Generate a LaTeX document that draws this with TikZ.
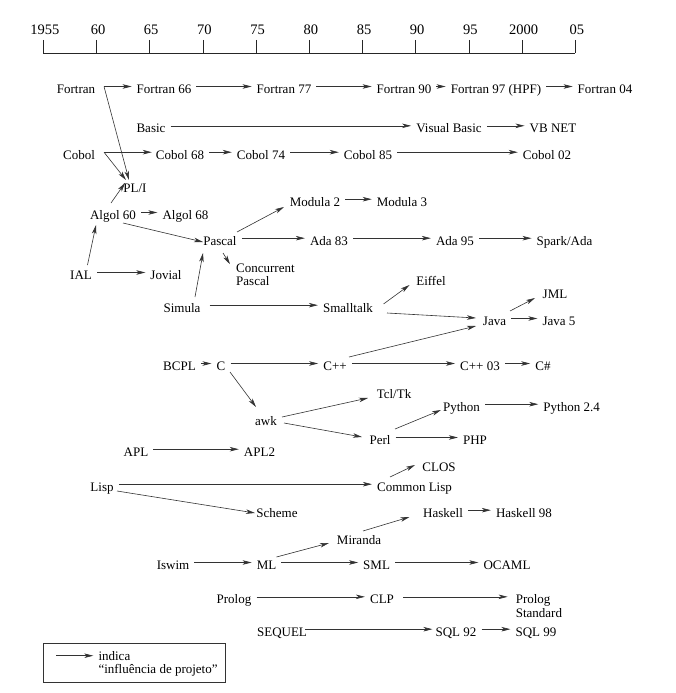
\documentclass[tikz,border=0pt]{standalone}
\usepackage{fontspec}
\setmainfont{Liberation Serif}
\usetikzlibrary{arrows.meta}
\begin{document}
\begin{tikzpicture}[x=1pt,y=-1pt,
  langnode/.style={font=\fontsize{13}{13.3}\selectfont, inner xsep=3pt, inner ysep=0pt, text height=14pt, text depth=0pt},
  langmulti/.style={font=\fontsize{13}{13.3}\selectfont, inner sep=0pt, anchor=base west},
  yearlbl/.style={font=\fontsize{14.5}{15}\selectfont, inner sep=0pt, anchor=base},
  infl/.style={draw=black!80, line width=0.6pt, -{Stealth[length=9pt,width=4.5pt,inset=2.5pt]}},
  hinfl/.style={infl, shorten >=2pt, shorten <=2pt},
  axisline/.style={draw=black!85, line width=0.7pt},
]
\useasboundingbox (0,0) rectangle (676,693);

% time axis
\draw[axisline] (43.3,53) -- (575.3,53);
\foreach \i in {0,...,10} \draw[axisline] (43.3+53.2*\i,40) -- (43.3+53.2*\i,53);
\foreach \i/\t in {0/1955,1/60,2/65,3/70,4/75,5/80,6/85,7/90,8/95,9/2000,10/05}
  \node[yearlbl] (yr\i) at (44.8+53.2*\i,35) {\t};

% languages
\node[langnode] (fortran) at (76,86.5) {Fortran};
\node[langnode] (f66) at (164,86.5) {Fortran 66};
\node[langnode] (f77) at (284,86.5) {Fortran 77};
\node[langnode] (f90) at (404,86.5) {Fortran 90};
\node[langnode] (f97) at (496,86.5) {Fortran 97 (HPF)};
\node[langnode] (f04) at (605,86.5) {Fortran 04};

\node[langnode] (basic) at (151,125.8) {Basic};
\node[langnode] (vb) at (449,125.8) {Visual Basic};
\node[langnode] (vbnet) at (553,125.8) {VB NET};

\node[langnode] (cobol) at (79,152.2) {Cobol};
\node[langnode] (c68) at (180,152.2) {Cobol 68};
\node[langnode] (c74) at (261,152.2) {Cobol 74};
\node[langnode] (c85) at (368,152.2) {Cobol 85};
\node[langnode] (c02) at (547,152.2) {Cobol 02};

\node[langnode] (pli) at (135,185.5) {PL/I};
\node[langnode] (algol60) at (113,212.5) {Algol 60};
\node[langnode] (algol68) at (185.5,212.5) {Algol 68};
\node[langnode] (modula2) at (315,199.2) {Modula 2};
\node[langnode] (modula3) at (402,199.2) {Modula 3};
\node[langnode] (pascal) at (220,238.2) {Pascal};
\node[langnode] (ada83) at (329,238.2) {Ada 83};
\node[langnode] (ada95) at (455,238.2) {Ada 95};
\node[langnode] (spark) at (564.5,238.2) {Spark/Ada};
\node[langmulti] (concp) at (236,272.2) {\begin{tabular}[t]{@{}l@{}}Concurrent\\Pascal\end{tabular}};
\node[langnode] (ial) at (81,272.5) {IAL};
\node[langnode] (jovial) at (166,272.5) {Jovial};
\node[langnode] (eiffel) at (431,278.2) {Eiffel};
\node[langnode] (simula) at (182,305.2) {Simula};
\node[langnode] (smalltalk) at (348,305.2) {Smalltalk};
\node[langnode] (jml) at (555,291.5) {JML};
\node[langnode] (java) at (494.5,318.5) {Java};
\node[langnode] (java5) at (559,318.5) {Java 5};

\node[langnode] (bcpl) at (179.5,363.5) {BCPL};
\node[langnode] (c) at (221,363.5) {C};
\node[langnode] (cpp) at (335,363.5) {C++};
\node[langnode] (cpp03) at (480,363.5) {C++ 03};
\node[langnode] (csharp) at (543,363.5) {C\#};

\node[langnode] (tcl) at (394,391.5) {Tcl/Tk};
\node[langnode] (python) at (461.5,404.2) {Python};
\node[langnode] (py24) at (571.6,404.2) {Python 2.4};
\node[langnode] (awk) at (266,418.2) {awk};
\node[langnode] (perl) at (380,437.5) {Perl};
\node[langnode] (php) at (475,437.5) {PHP};
\node[langnode] (apl) at (136,449.2) {APL};
\node[langnode] (apl2) at (259.5,449.2) {APL2};

\node[langnode] (clos) at (439,464.2) {CLOS};
\node[langnode] (lisp) at (102,484.2) {Lisp};
\node[langnode] (clisp) at (414.5,484.2) {Common Lisp};
\node[langnode] (scheme) at (277,510.2) {Scheme};
\node[langnode] (haskell) at (443,510.2) {Haskell};
\node[langnode] (h98) at (524,510.2) {Haskell 98};
\node[langnode] (miranda) at (359,537.5) {Miranda};
\node[langnode] (iswim) at (173,562.5) {Iswim};
\node[langnode] (ml) at (266.5,562.5) {ML};
\node[langnode] (sml) at (376.6,562.5) {SML};
\node[langnode] (ocaml) at (507,562.5) {OCAML};

\node[langnode] (prolog) at (234,596.8) {Prolog};
\node[langnode] (clp) at (382,596.8) {CLP};
\node[langmulti] (prologstd) at (515.6,603.8) {\begin{tabular}[t]{@{}l@{}}Prolog\\Standard\end{tabular}};
\node[langnode] (sequel) at (282,629.2) {SEQUEL};
\node[langnode] (sql92) at (456,629.2) {SQL 92};
\node[langnode] (sql99) at (536,629.2) {SQL 99};

% horizontal influences
\draw[infl, shorten >=2pt] ([shift={(28,0)}]fortran.center) -- (f66);
\draw[hinfl] (f66) -- (f77);
\draw[hinfl] (f77) -- (f90);
\draw[hinfl] (f90) -- (f97);
\draw[hinfl] (f97) -- (f04);
\draw[hinfl] (basic) -- (vb);
\draw[hinfl] (vb) -- (vbnet);
\draw[infl, shorten >=1pt] ([shift={(25,0)}]cobol.center) -- (c68);
\draw[hinfl] (c68) -- (c74);
\draw[hinfl] (c74) -- (c85);
\draw[hinfl] (c85) -- (c02);
\draw[hinfl] (algol60) -- (algol68);
\draw[hinfl] (modula2) -- (modula3);
\draw[hinfl] (pascal) -- (ada83);
\draw[hinfl] (ada83) -- (ada95);
\draw[hinfl] (ada95) -- (spark);
\draw[hinfl] (ial) -- (jovial);
\draw[hinfl, shorten <=6pt] (simula) -- (smalltalk);
\draw[hinfl] (java) -- (java5);
\draw[hinfl] (bcpl) -- (c);
\draw[hinfl] (c) -- (cpp);
\draw[hinfl] (cpp) -- (cpp03);
\draw[hinfl] (cpp03) -- (csharp);
\draw[hinfl] (python) -- (py24);
\draw[hinfl] (perl) -- (php);
\draw[hinfl] (apl) -- (apl2);
\draw[hinfl] (lisp) -- (clisp);
\draw[hinfl] (haskell) -- (h98);
\draw[hinfl] (iswim) -- (ml);
\draw[hinfl] (ml) -- (sml);
\draw[hinfl] (sml) -- (ocaml);
\draw[hinfl] (prolog) -- (clp);
\draw[infl, shorten <=6pt, shorten >=8pt] (clp) -- (clp -| prologstd.west);
\draw[infl, shorten <=-5pt] (sequel) -- (sql92);
\draw[hinfl] (sql92) -- (sql99);

% oblique influences
\draw[infl] ([shift={(28,0)}]fortran.center) -- ([shift={(-6,-5.5)}]pli.center);
\draw[infl] ([shift={(25,0)}]cobol.center) -- ([shift={(-9,-5.5)}]pli.center);
\draw[infl] ([shift={(-2,-9.5)}]algol60.center) -- ([shift={(-10,-2.5)}]pli.center);
\draw[infl] ([shift={(10,10.5)}]algol60.center) -- ([shift={(-17,3.8)}]pascal.center);
\draw[infl] ([shift={(6.5,-7.5)}]ial.center) -- ([shift={(-17,12.5)}]algol60.center);
\draw[infl] ([shift={(17,-6.2)}]pascal.center) -- ([shift={(-31,7.8)}]modula2.center);
\draw[infl] ([shift={(3,14.8)}]pascal.center) -- ([shift={(-6,-8)}]concp.base west);
\draw[infl] ([shift={(13,-8.2)}]simula.center) -- ([shift={(-17,14.8)}]pascal.center);
\draw[infl] ([shift={(35.5,-1.2)}]smalltalk.center) -- ([shift={(-21.5,6.8)}]eiffel.center);
\draw[infl] ([shift={(39,7.8)}]smalltalk.center) -- ([shift={(-18.5,-0.5)}]java.center);
\draw[infl] ([shift={(14,-6.5)}]cpp.center) -- ([shift={(-18.5,7.5)}]java.center);
\draw[infl] ([shift={(15.5,-7.5)}]java.center) -- ([shift={(-20,6.5)}]jml.center);
\draw[infl] ([shift={(9,8.5)}]c.center) -- ([shift={(-10,-11.2)}]awk.center);
\draw[infl] ([shift={(16,-1.2)}]awk.center) -- ([shift={(-26,6.5)}]tcl.center);
\draw[infl] ([shift={(18,4.8)}]awk.center) -- ([shift={(-18,-0.5)}]perl.center);
\draw[infl] ([shift={(15,-8.5)}]perl.center) -- ([shift={(-20.5,5.8)}]python.center);
\draw[infl] ([shift={(-24.5,-7.2)}]clisp.center) -- ([shift={(-24,0.8)}]clos.center);
\draw[infl] ([shift={(15,6.8)}]lisp.center) -- ([shift={(-22,2.8)}]scheme.center);
\draw[infl] ([shift={(4,-6.5)}]miranda.center) -- ([shift={(-33.5,6.8)}]haskell.center);
\draw[infl] ([shift={(10,-5.5)}]ml.center) -- ([shift={(-30,5.5)}]miranda.center);

% legend
\draw[draw=black!80, line width=0.7pt] (43.3,643.3) rectangle (225.7,682.7);
\coordinate (lgA) at (56,655.7);
\coordinate (lgB) at (93.3,655.7);
\draw[infl] (lgA) -- (lgB);
\node[langmulti] (legendtxt) at (98.3,660.5) {\begin{tabular}[t]{@{}l@{}}indica\\“influência de projeto”\end{tabular}};
\end{tikzpicture}
\end{document}
